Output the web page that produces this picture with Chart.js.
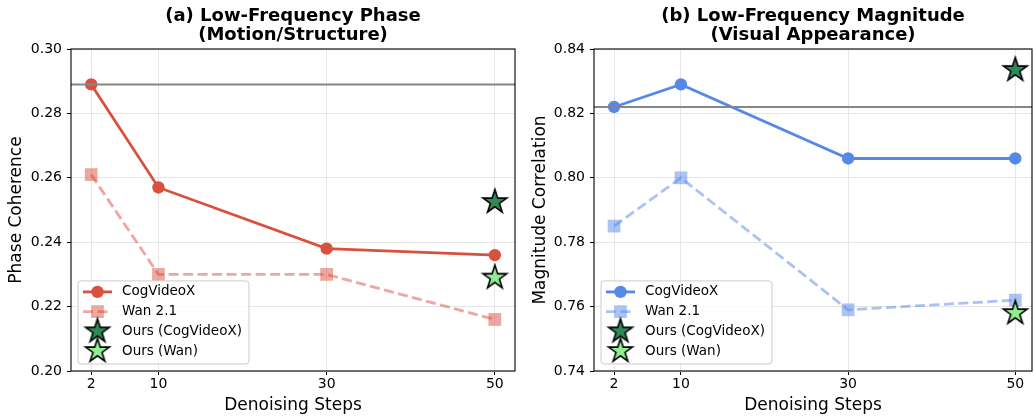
<!DOCTYPE html>
<html lang="en">
<head>
<meta charset="UTF-8">
<title>Low-Frequency Phase / Magnitude vs Denoising Steps</title>
<script src="https://cdn.jsdelivr.net/npm/chart.js"></script>
<style>
  body { margin: 0; background: #fff; }
  .row { display: flex; width: 1034px; height: 417px; }
  canvas { display: block; }
</style>
</head>
<body>
<div class="row">
  <canvas id="phaseChart" width="517" height="417"></canvas>
  <canvas id="magChart" width="517" height="417"></canvas>
</div>
<script>
// values
const steps = [2, 10, 30, 50];
const oursStep = [50];

const phaseCog = [0.289, 0.257, 0.238, 0.236];
const phaseWan = [0.261, 0.230, 0.230, 0.216];
const phaseOursCog = [0.2525];
const phaseOursWan = [0.229];
const phaseRef = 0.289;
const phaseTicks = [0.20, 0.22, 0.24, 0.26, 0.28, 0.30];

const magCog = [0.822, 0.829, 0.806, 0.806];
const magWan = [0.785, 0.800, 0.759, 0.762];
const magOursCog = [0.8335];
const magOursWan = [0.758];
const magRef = 0.822;
const magTicks = [0.74, 0.76, 0.78, 0.80, 0.82, 0.84];

const FONT = '"DejaVu Sans", sans-serif';

function pts(xs, ys) {
  return xs.map((x, i) => ({ x: x, y: ys[i] }));
}

// filled five point star with black edge, used as point style
function makeStar(fill) {
  const c = document.createElement('canvas');
  c.width = 30; c.height = 30;
  const g = c.getContext('2d');
  const R = 12.5, r = R * 0.382;
  g.beginPath();
  for (let i = 0; i < 10; i++) {
    const a = -Math.PI / 2 + i * Math.PI / 5;
    const rad = i % 2 ? r : R;
    g.lineTo(15 + rad * Math.cos(a), 15 + rad * Math.sin(a));
  }
  g.closePath();
  g.fillStyle = fill;
  g.fill();
  g.lineWidth = 1.6;
  g.strokeStyle = '#000';
  g.stroke();
  return c;
}
const starDark = makeStar('#2e8b57');
const starLight = makeStar('#90ee90');

function drawMarker(ctx, d, x, y) {
  const st = d.pointStyle;
  if (typeof st === 'object') {
    ctx.drawImage(st, x - st.width / 2, y - st.height / 2);
    return;
  }
  ctx.fillStyle = d.pointBackgroundColor;
  ctx.beginPath();
  if (st === 'rect') {
    const s = d.pointRadius * Math.SQRT1_2;
    ctx.rect(x - s, y - s, 2 * s, 2 * s);
  } else {
    ctx.arc(x, y, d.pointRadius, 0, Math.PI * 2);
  }
  ctx.fill();
}

// horizontal reference line (drawn over the markers, like the original)
const refLine = {
  id: 'refLine',
  afterDatasetsDraw(chart, args, opts) {
    const { ctx, chartArea: a } = chart;
    const py = chart.scales.y.getPixelForValue(opts.value);
    ctx.save();
    ctx.strokeStyle = '#858585';
    ctx.lineWidth = 2;
    ctx.beginPath();
    ctx.moveTo(a.left, py);
    ctx.lineTo(a.right, py);
    ctx.stroke();
    ctx.restore();
  }
};

// all four spines
const frame = {
  id: 'frame',
  afterDatasetsDraw(chart) {
    const { ctx, chartArea: a } = chart;
    ctx.save();
    ctx.strokeStyle = '#000';
    ctx.lineWidth = 1.1;
    ctx.strokeRect(a.left, a.top, a.right - a.left, a.bottom - a.top);
    ctx.restore();
  }
};

// matplotlib style legend box in the lower left corner
const boxLegend = {
  id: 'boxLegend',
  afterDraw(chart) {
    const { ctx, chartArea: a } = chart;
    const sets = chart.data.datasets;
    ctx.save();
    ctx.font = '13.5px ' + FONT;
    const textW = Math.max(...sets.map(d => ctx.measureText(d.label).width));
    const rowH = 19.7;
    const w = 44 + textW + 7;
    const h = 11 + rowH * (sets.length - 1) + 13;
    const x0 = a.left + 7, y0 = a.bottom - 7 - h;

    ctx.beginPath();
    if (ctx.roundRect) ctx.roundRect(x0, y0, w, h, 3);
    else ctx.rect(x0, y0, w, h);
    ctx.fillStyle = 'rgba(255,255,255,0.8)';
    ctx.fill();
    ctx.strokeStyle = '#cccccc';
    ctx.lineWidth = 1;
    ctx.stroke();

    sets.forEach((d, i) => {
      const cy = y0 + 11 + i * rowH;
      if (d.showLine) {
        ctx.save();
        ctx.strokeStyle = d.borderColor;
        ctx.lineWidth = d.borderWidth;
        ctx.setLineDash(d.borderDash || []);
        ctx.beginPath();
        ctx.moveTo(x0 + 5, cy);
        ctx.lineTo(x0 + 34, cy);
        ctx.stroke();
        ctx.restore();
      }
      drawMarker(ctx, d, x0 + 19.5, cy);
      ctx.fillStyle = '#000';
      ctx.textBaseline = 'middle';
      ctx.textAlign = 'left';
      ctx.fillText(d.label, x0 + 44, cy);
    });
    ctx.restore();
  }
};

function panel(id, o) {
  return new Chart(document.getElementById(id), {
    type: 'scatter',
    data: {
      datasets: [
        { label: 'CogVideoX', data: pts(steps, o.cog), showLine: true,
          borderColor: o.color, backgroundColor: o.color, borderWidth: 2.8,
          pointStyle: 'circle', pointRadius: 6.2, pointBorderWidth: 0,
          pointBackgroundColor: o.color, order: 3 },
        { label: 'Wan 2.1', data: pts(steps, o.wan), showLine: true,
          borderColor: o.faint, backgroundColor: o.faint, borderWidth: 2.8,
          borderDash: [10, 4.5], pointStyle: 'rect', pointRadius: 9,
          pointBorderWidth: 0, pointBackgroundColor: o.faint, order: 2 },
        { label: 'Ours (CogVideoX)', data: pts(oursStep, o.oursCog),
          pointStyle: starDark, pointRadius: 13, order: 1 },
        { label: 'Ours (Wan)', data: pts(oursStep, o.oursWan),
          pointStyle: starLight, pointRadius: 13, order: 0 }
      ]
    },
    options: {
      responsive: false,
      animation: false,
      events: [],
      layout: { autoPadding: false, padding: { right: 2 } },
      plugins: {
        legend: { display: false },
        tooltip: { enabled: false },
        title: {
          display: true, text: o.title, fullSize: false, color: '#000',
          font: { family: FONT, size: 18, weight: 'bold', lineHeight: 1.1 },
          padding: { top: 6, bottom: 3.4 }
        },
        refLine: { value: o.ref }
      },
      scales: {
        x: {
          type: 'linear', min: -0.4, max: o.xMax,
          afterBuildTicks: s => { s.ticks = steps.map(v => ({ value: v })); },
          afterFit: s => { s.height = 46; },
          ticks: { color: '#000', font: { family: FONT, size: 14 }, padding: 1,
                   maxRotation: 0, autoSkip: false, callback: v => String(v) },
          grid: { color: '#e6e6e6', lineWidth: 1, tickLength: 4, tickColor: '#000' },
          border: { display: false },
          title: { display: true, text: 'Denoising Steps', color: '#000',
                   font: { family: FONT, size: 17, lineHeight: 1.2 },
                   padding: { top: 0, bottom: 1 } }
        },
        y: {
          type: 'linear', min: o.ticks[0], max: o.ticks[o.ticks.length - 1],
          afterBuildTicks: s => { s.ticks = o.ticks.map(v => ({ value: v })); },
          afterFit: s => { s.width = o.yWidth; },
          ticks: { color: '#000', font: { family: FONT, size: 14 }, padding: 5,
                   autoSkip: false, callback: v => v.toFixed(2) },
          grid: { color: '#e6e6e6', lineWidth: 1, tickLength: 4, tickColor: '#000' },
          border: { display: false },
          title: { display: true, text: o.yTitle, color: '#000',
                   font: { family: FONT, size: 17, lineHeight: 1.2 },
                   padding: { top: o.yTitlePad, bottom: 0 } }
        }
      }
    },
    plugins: [refLine, frame, boxLegend]
  });
}

panel('phaseChart', {
  title: ['(a) Low-Frequency Phase', '(Motion/Structure)'],
  yTitle: 'Phase Coherence',
  cog: phaseCog, wan: phaseWan, oursCog: phaseOursCog, oursWan: phaseOursWan,
  ref: phaseRef, ticks: phaseTicks,
  color: '#d9503f', faint: 'rgba(217,80,63,0.5)',
  yWidth: 71, yTitlePad: 6, xMax: 52.4
});

panel('magChart', {
  title: ['(b) Low-Frequency Magnitude', '(Visual Appearance)'],
  yTitle: 'Magnitude Correlation',
  cog: magCog, wan: magWan, oursCog: magOursCog, oursWan: magOursWan,
  ref: magRef, ticks: magTicks,
  color: '#5688e8', faint: 'rgba(86,136,232,0.5)',
  yWidth: 77, yTitlePad: 13, xMax: 52.0
});
</script>
</body>
</html>
